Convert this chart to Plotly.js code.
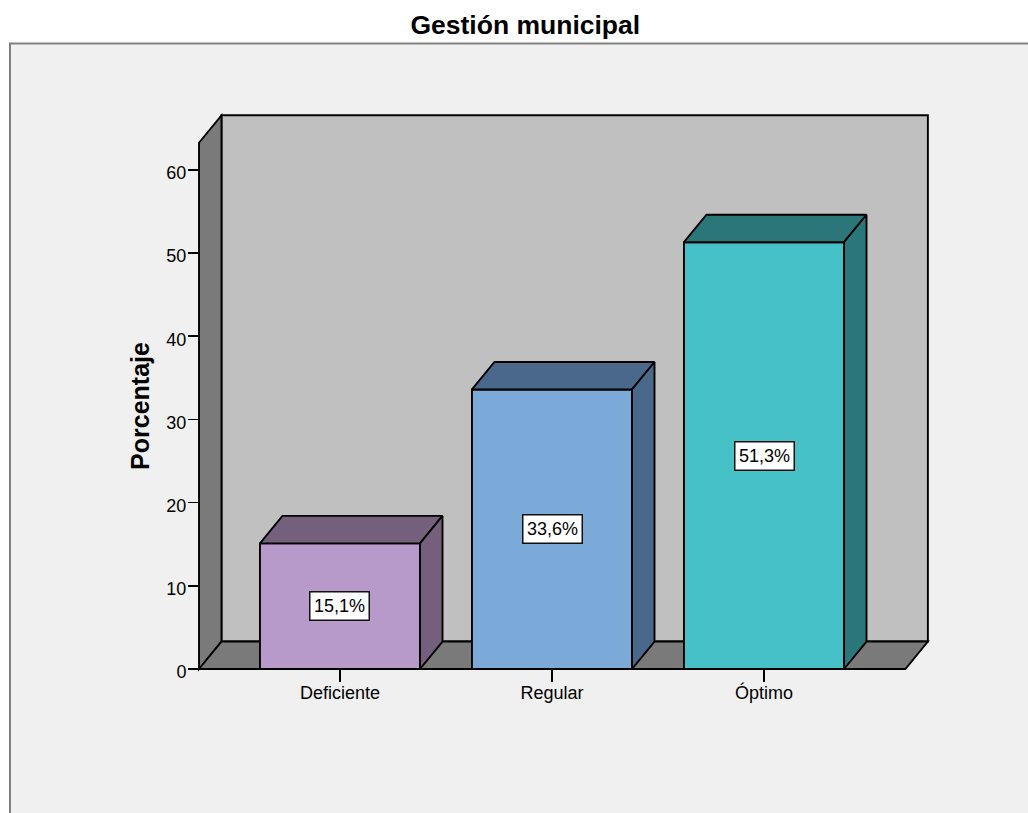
<!DOCTYPE html>
<html>
<head>
<meta charset="utf-8">
<script src="https://cdn.plot.ly/plotly-3.0.1.min.js"></script>
<style>html,body{margin:0;padding:0;background:#fff;overflow:hidden}#c{width:1028px;height:813px}</style>
</head>
<body>
<div id="c"></div>
<script>
// Data
const categories = ["Deficiente", "Regular", "Óptimo"];
const percentages = [15.1, 33.6, 51.3];
const valueLabels = ["15,1%", "33,6%", "51,3%"];
const yTicks = [0, 10, 20, 30, 40, 50, 60];

// Styles
const frontColors = ["#b89aca", "#7ba9d8", "#46c1c7"];
const darkColors = ["#745f7c", "#49688a", "#2b7679"];
const FONT = "Liberation Sans, Arial, sans-serif";

// Pseudo-3D extrusion, in axis units
const barWidth = 0.755, depthX = 0.106, depthY = 3.3;
const xLeft = -0.665, xRight = 2.667, wallTop = 63.25;
const edge = {color: "#000", width: 1.9};

const positions = categories.map((_, i) => i);
const traces = [{
  type: "bar", x: positions, y: percentages, width: barWidth,
  marker: {color: frontColors, line: {color: "#000", width: 1.9}},
  hoverinfo: "skip"
}];
positions.forEach((p, i) => {
  const l = p - barWidth / 2, r = p + barWidth / 2, v = percentages[i];
  traces.push({
    type: "scatter", mode: "lines", fill: "toself", fillcolor: darkColors[i], line: edge, hoverinfo: "skip",
    x: [l, r, r + depthX, l + depthX, l], y: [v, v, v + depthY, v + depthY, v]
  });
  traces.push({
    type: "scatter", mode: "lines", fill: "toself", fillcolor: darkColors[i], line: edge, hoverinfo: "skip",
    x: [r, r + depthX, r + depthX, r, r], y: [0, depthY, v + depthY, v, 0]
  });
});

const poly = pts => "M" + pts.map(p => p.join(",")).join("L") + "Z";
const shapeLine = {color: "#000", width: 1.9};
const shapes = [
  // panel with its frame
  {type: "rect", xref: "paper", yref: "paper", layer: "below", x0: -0.2416, x1: 1.2, y0: -0.3, y1: 1.1022,
    fillcolor: "#f0f0f0", line: {color: "#808080", width: 2}},
  // back wall
  {type: "path", xref: "x", yref: "y", layer: "below", fillcolor: "#c0c0c0", line: shapeLine,
    path: poly([[xLeft + depthX, depthY], [xRight + depthX, depthY], [xRight + depthX, wallTop + depthY], [xLeft + depthX, wallTop + depthY]])},
  // left wall
  {type: "path", xref: "x", yref: "y", layer: "below", fillcolor: "#7a7a7a", line: shapeLine,
    path: poly([[xLeft, 0], [xLeft + depthX, depthY], [xLeft + depthX, wallTop + depthY], [xLeft, wallTop]])},
  // floor
  {type: "path", xref: "x", yref: "y", layer: "below", fillcolor: "#7a7a7a", line: shapeLine,
    path: poly([[xLeft, 0], [xRight, 0], [xRight + depthX, depthY], [xLeft + depthX, depthY]])}
];

const annotations = positions.map((p, i) => ({
  x: p, y: percentages[i] / 2, xref: "x", yref: "y", text: valueLabels[i], showarrow: false,
  font: {family: FONT, size: 18, color: "#000"},
  bgcolor: "#fff", bordercolor: "#111", borderwidth: 1.5, borderpad: 3.5
}));

const layout = {
  width: 1028, height: 813, autosize: false, showlegend: false,
  paper_bgcolor: "#fff", plot_bgcolor: "rgba(0,0,0,0)",
  margin: {l: 190, r: 93, t: 105, b: 106, pad: 0},
  font: {family: FONT, color: "#000"},
  title: {text: "Gestión municipal", xref: "container", yref: "container", x: 0.511, xanchor: "center",
    y: 0.970, yanchor: "middle", font: {family: FONT, size: 26.5, weight: 700, color: "#000"}},
  xaxis: {range: [-0.7075, 2.8066], anchor: "free", position: 0.06312, tickmode: "array",
    tickvals: positions, ticktext: categories, ticks: "outside", ticklen: 12, tickwidth: 1.5, tickcolor: "#000",
    ticklabelstandoff: -5,
    tickfont: {family: FONT, size: 18, color: "#000"}, showgrid: false, zeroline: false, showline: false, fixedrange: true},
  yaxis: {range: [-4.567, 67.79], anchor: "free", position: 0.01208, tickmode: "array",
    tickvals: yTicks, ticks: "outside", ticklen: 11, tickwidth: 1.5, tickcolor: "#000",
    ticklabelstandoff: -2, ticklabelshift: 3,
    tickfont: {family: FONT, size: 18, color: "#000"}, showgrid: false, zeroline: false, showline: false, fixedrange: true,
    title: {text: "Porcentaje", standoff: 8, font: {family: FONT, size: 25, weight: 700, color: "#000"}}},
  bargap: 0.25, shapes: shapes, annotations: annotations
};
Plotly.newPlot("c", traces, layout, {displayModeBar: false, staticPlot: true});
</script>
</body>
</html>
